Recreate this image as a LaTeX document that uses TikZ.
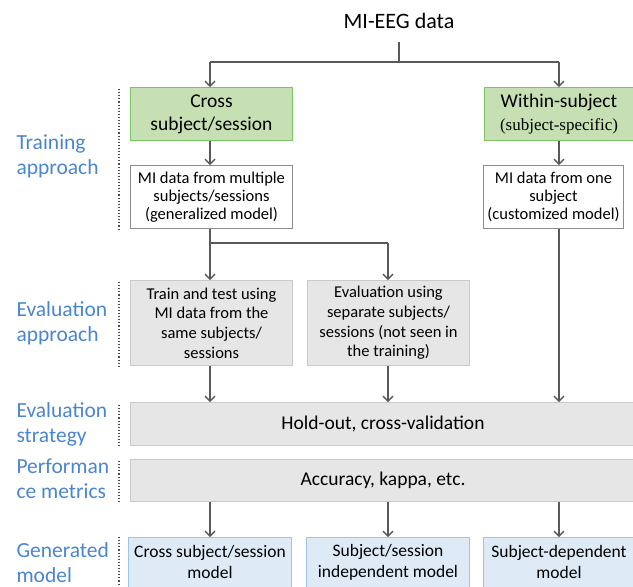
\documentclass[tikz,border=0pt]{standalone}
\usepackage{fontspec}
\setmainfont{Carlito}
\newfontfamily\serifpart{Liberation Serif}
\usetikzlibrary{arrows.meta}
\definecolor{labelblue}{HTML}{4A86CF}
\definecolor{greenfill}{HTML}{C6E0B4}
\definecolor{greenline}{HTML}{7DC363}
\definecolor{greyfill}{HTML}{E7E6E6}
\definecolor{greyline}{HTML}{C9C9C9}
\definecolor{bluefill}{HTML}{DEEBF7}
\definecolor{blueline}{HTML}{9DC3E6}
\definecolor{arrowgrey}{HTML}{595959}
\tikzset{
  box/.style={draw, line width=1pt, inner sep=0pt, align=center, anchor=north west},
  greenbox/.style={box, fill=greenfill, draw=greenline, font=\fontsize{19.5}{23}\selectfont},
  whitebox/.style={box, fill=white, draw=gray!90, font=\fontsize{16.5}{18}\selectfont},
  greybox/.style={box, fill=greyfill, draw=greyline, font=\fontsize{16.5}{19.7}\selectfont},
  widebox/.style={box, fill=greyfill, draw=greyline},
  modelbox/.style={box, fill=bluefill, draw=blueline},
  boxtext/.style={align=center, inner sep=0pt},
  sidelabel/.style={anchor=west, align=left, text=labelblue, font=\fontsize{21.5}{25}\selectfont},
  flow/.style={draw=arrowgrey, line width=1.5pt, -{Straight Barb[length=5pt,width=10pt,line width=1.3pt]}},
  plain/.style={draw=arrowgrey, line width=1.5pt},
  divider/.style={draw=black!70, line width=1.1pt, dotted},
}
\begin{document}
\begin{tikzpicture}[x=1pt,y=-1pt]
\useasboundingbox (0,0) rectangle (633,587);
\clip (0,0) rectangle (633,587);

% top source
\node[font=\fontsize{22}{26}\selectfont] (src) at (399,21) {MI-EEG data};
\coordinate (split) at (399,62);
\coordinate (splitL) at (210,62);
\coordinate (splitR) at (559,62);

% training approach
\node[greenbox, minimum width=162pt, minimum height=53pt] (cross) at (130,87) {Cross\\subject/session};
\node[greenbox, minimum width=149pt, minimum height=53pt] (within) at (484,87)
  {Within-subject\\{\serifpart\fontsize{17}{19}\selectfont(subject-specific)}};
\node[whitebox, minimum width=162pt, minimum height=63pt] (multi) at (130,165)
  {MI data from multiple\\subjects/sessions\\(generalized model)};
\node[whitebox, minimum width=140pt, minimum height=63pt] (one) at (483,165)
  {MI data from one\\subject\\(customized model)};

% evaluation approach
\coordinate (fork) at (210,243);
\coordinate (forkR) at (388,243);
\node[greybox, minimum width=162pt, minimum height=85pt] (same) at (130,280)
  {Train and test using\\MI data from the\\same subjects/\\sessions};
\node[greybox, minimum width=162pt, minimum height=85pt] (sep) at (307,280)
  {Evaluation using\\separate subjects/\\sessions (not seen in\\the training)};

% strategy and metrics
\node[widebox, minimum width=520pt, minimum height=43pt] (hold) at (130,402) {};
\node[boxtext, font=\fontsize{19.5}{23}\selectfont] (holdtxt) at (383,423.5) {Hold-out, cross-validation};
\node[widebox, minimum width=520pt, minimum height=42pt] (acc) at (130,459) {};
\node[boxtext, font=\fontsize{19.5}{23}\selectfont] (acctxt) at (383,480) {Accuracy, kappa, etc.};

% generated models
\node[modelbox, minimum width=163pt, minimum height=60pt] (m1) at (128,537) {};
\node[modelbox, minimum width=163pt, minimum height=60pt] (m2) at (306,537) {};
\node[modelbox, minimum width=160pt, minimum height=60pt] (m3) at (483,537) {};
\node[boxtext, font=\fontsize{17.5}{21}\selectfont] (m1t) at (210,562) {Cross subject/session\\model};
\node[boxtext, font=\fontsize{17.5}{21}\selectfont] (m2t) at (388,562) {Subject/session\\independent model};
\node[boxtext, font=\fontsize{17.5}{21}\selectfont] (m3t) at (559,562) {Subject-dependent\\model};

% connectors
\draw[plain] (src.south |- 0,42) -- (split);
\draw[plain] (splitL) -- (splitR);
\draw[flow] (splitL) -- (cross.north -| splitL);
\draw[flow] (splitR) -- (within.north -| splitR);
\draw[flow] (cross.south -| splitL) -- (multi.north -| splitL);
\draw[flow] (within.south -| splitR) -- (one.north -| splitR);
\draw[plain] (multi.south -| fork) -- (fork) -- (forkR);
\draw[flow] (fork) -- (same.north -| fork);
\draw[flow] (forkR) -- (sep.north -| forkR);
\draw[flow] (same.south -| fork) -- (hold.north -| fork);
\draw[flow] (sep.south -| forkR) -- (hold.north -| forkR);
\draw[flow] (one.south -| splitR) -- (hold.north -| splitR);
\draw[flow] (acc.south -| fork) -- (m1.north -| fork);
\draw[flow] (acc.south -| forkR) -- (m2.north -| forkR);
\draw[flow] (acc.south -| splitR) -- (m3.north -| splitR);

% row labels and dotted dividers
\node[sidelabel] (l1) at (13,156) {Training\\approach};
\node[sidelabel] (l2) at (13,323) {Evaluation\\approach};
\node[sidelabel] (l3) at (13,424) {Evaluation\\strategy};
\node[sidelabel] (l4) at (13,479) {Performan\\ce metrics};
\node[sidelabel] (l5) at (13,563) {Generated\\model};
\coordinate (d1a) at (119,89);  \coordinate (d1b) at (119,230);
\coordinate (d2a) at (119,282); \coordinate (d2b) at (119,366);
\coordinate (d3a) at (119,405); \coordinate (d3b) at (119,448);
\coordinate (d4a) at (119,461); \coordinate (d4b) at (119,503);
\coordinate (d5a) at (119,537); \coordinate (d5b) at (119,590);
\draw[divider] (d1a) -- (d1b);
\draw[divider] (d2a) -- (d2b);
\draw[divider] (d3a) -- (d3b);
\draw[divider] (d4a) -- (d4b);
\draw[divider] (d5a) -- (d5b);
\end{tikzpicture}
\end{document}
